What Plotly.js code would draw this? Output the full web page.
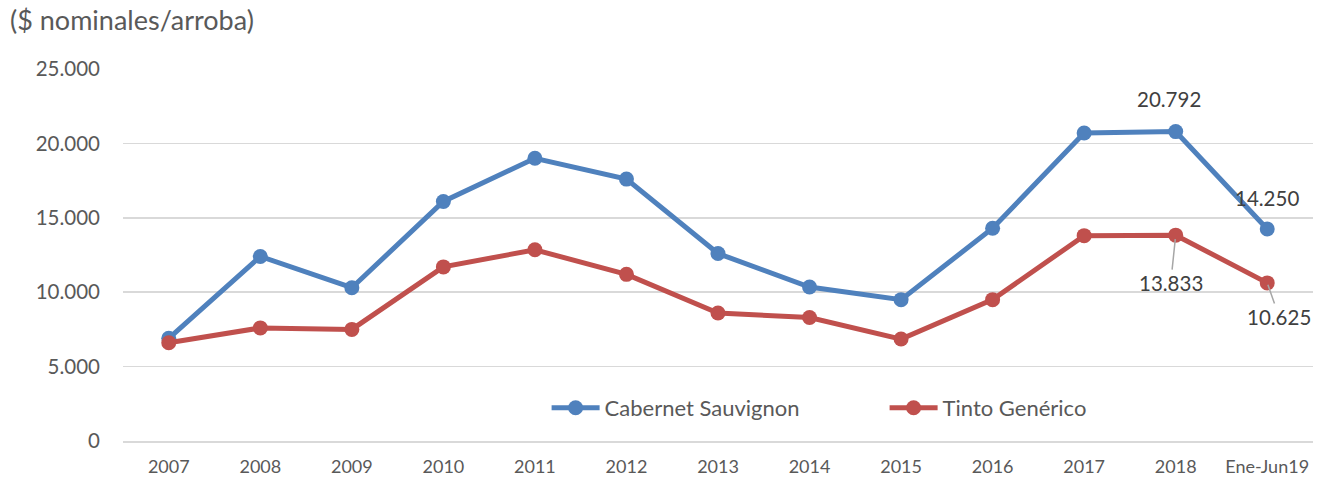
<!DOCTYPE html>
<html>
<head>
<meta charset="utf-8">
<script src="https://cdn.plot.ly/plotly-3.0.1.min.js"></script>
<style>html,body{margin:0;padding:0;background:#fff;}#chart{width:1317px;height:479px;}</style>
</head>
<body>
<div id="chart"></div>
<script>
var categories = ['2007','2008','2009','2010','2011','2012','2013','2014','2015','2016','2017','2018','Ene-Jun19'];
var cabernet = [6900, 12400, 10300, 16100, 19000, 17600, 12600, 10350, 9500, 14300, 20700, 20792, 14250];
var tinto = [6600, 7600, 7500, 11700, 12850, 11200, 8600, 8300, 6850, 9500, 13800, 13833, 10625];
var yTickVals = [0, 5000, 10000, 15000, 20000, 25000];
var yTickText = ['0', '5.000', '10.000', '15.000', '20.000', '25.000'];
var seriesNames = ['Cabernet Sauvignon', 'Tinto Genérico'];

function fmt(v) { return v.toLocaleString('de-DE'); }

var FONT = 'Lato, "Open Sans", sans-serif';
var TXT = '#595959';

var traces = [
  {x: categories, y: cabernet, name: seriesNames[0], type: 'scatter', mode: 'lines+markers',
   line: {color: '#4F81BD', width: 5}, marker: {color: '#4F81BD', size: 15}},
  {x: categories, y: tinto, name: seriesNames[1], type: 'scatter', mode: 'lines+markers',
   line: {color: '#C0504D', width: 5}, marker: {color: '#C0504D', size: 15}}
];

var lab = {size: 20.5, color: '#404040', family: FONT};
var annotations = [
  {x: 11, y: cabernet[11], text: fmt(cabernet[11]), showarrow: false, yshift: 33, xshift: -7, font: lab},
  {x: 12, y: cabernet[12], text: fmt(cabernet[12]), showarrow: false, yshift: 31, xshift: 0, font: lab},
  {x: 11, y: tinto[11], text: fmt(tinto[11]), showarrow: true, arrowhead: 0, arrowwidth: 1.5,
   arrowcolor: '#A6A6A6', ax: -5, ay: 48, standoff: 4, font: lab},
  {x: 12, y: tinto[12], text: fmt(tinto[12]), showarrow: true, arrowhead: 0, arrowwidth: 1.5,
   arrowcolor: '#A6A6A6', ax: 12, ay: 34, standoff: 2, font: lab}
];

var layout = {
  width: 1317, height: 479,
  margin: {l: 123, r: 4, t: 69, b: 38},
  paper_bgcolor: '#fff', plot_bgcolor: '#fff',
  font: {family: FONT, color: TXT},
  title: {text: '($ nominales/arroba)', x: 10/1317, xref: 'container', xanchor: 'left',
          y: 1 - 21/479, yref: 'container', yanchor: 'middle', font: {size: 27, color: TXT, family: FONT}},
  xaxis: {type: 'category', range: [-0.5, 12.5], showgrid: false, zeroline: false,
          showline: true, linecolor: '#D9D9D9', linewidth: 1.5, ticks: '', ticklabelstandoff: 9,
          tickfont: {size: 18, color: TXT, family: FONT}, fixedrange: true},
  yaxis: {range: [0, 25000], tickvals: yTickVals, ticktext: yTickText, showgrid: true,
          gridcolor: '#D9D9D9', gridwidth: 1.5, zeroline: false, showline: false, ticks: '',
          ticklabelstandoff: 22, tickfont: {size: 20.5, color: TXT, family: FONT}, fixedrange: true},
  showlegend: true,
  legend: {orientation: 'h', x: 0.640, xanchor: 'center', y: 0.089, yanchor: 'middle',
           font: {size: 22, color: TXT, family: FONT}, bgcolor: 'rgba(0,0,0,0)',
           entrywidth: 275, entrywidthmode: 'pixels', itemwidth: 48},
  annotations: annotations
};

Plotly.newPlot('chart', traces, layout, {displayModeBar: false, staticPlot: true});
</script>
</body>
</html>
